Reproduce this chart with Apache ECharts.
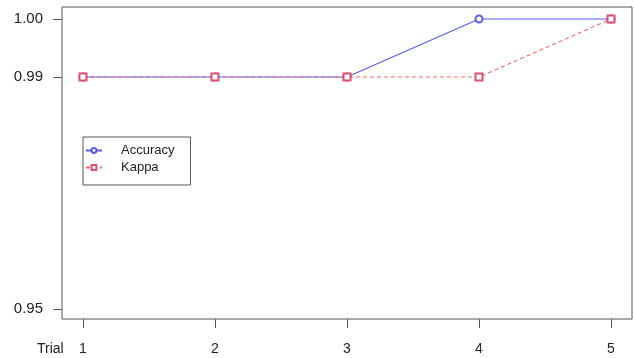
<!DOCTYPE html>
<html><head><meta charset="utf-8">
<script src="https://cdn.jsdelivr.net/npm/echarts@6/dist/echarts.min.js"></script>
<style>html,body{margin:0;padding:0;background:#fff}#c{width:634px;height:358px}</style>
</head><body><div id="c"></div>
<script>
const trials = [1, 2, 3, 4, 5];
const accuracy = [0.99, 0.99, 0.99, 1.00, 1.00];
const kappa = [0.99, 0.99, 0.99, 0.99, 1.00];
const yTicks = [0.95, 0.99, 1.00];
const xTicks = [1, 2, 3, 4, 5];

const chart = echarts.init(document.getElementById('c'));
const font = 'Liberation Sans, Arial, sans-serif';
chart.setOption({
  animation: false,
  grid: {left: 62, right: 2, top: 7, bottom: 39, show: true, borderColor: '#555', borderWidth: 1, backgroundColor: 'transparent'},
  xAxis: {
    type: 'value', min: 0.841, max: 5.159,
    axisLine: {show: false}, splitLine: {show: false},
    axisTick: {show: true, customValues: xTicks, length: 9, lineStyle: {color: '#555'}},
    axisLabel: {customValues: xTicks, margin: 23, fontFamily: font, fontSize: 14, color: '#222', formatter: v => String(v)}
  },
  yAxis: {
    type: 'value', min: 0.94828, max: 1.00207,
    axisLine: {show: false}, splitLine: {show: false},
    axisTick: {show: true, customValues: yTicks, length: 9, lineStyle: {color: '#555'}},
    axisLabel: {customValues: yTicks, margin: 19, fontFamily: font, fontSize: 15, color: '#222', formatter: v => v.toFixed(2)}
  },
  legend: {
    orient: 'vertical', left: 83, top: 137,
    borderColor: '#555', borderWidth: 1, padding: [7, 16, 11, 2],
    itemWidth: 16, itemHeight: 6, itemGap: 4,
    textStyle: {fontFamily: font, fontSize: 13, color: '#222', padding: [0, 0, 0, 14]},
    data: ['Accuracy', 'Kappa']
  },
  graphic: [{type: 'text', left: 37, top: 342, style: {text: 'Trial', font: '14px Liberation Sans, Arial, sans-serif', fill: '#222'}}],
  series: [
    {name: 'Accuracy', type: 'line', data: trials.map((t, i) => [t, accuracy[i]]),
     symbol: 'emptyCircle', symbolSize: 7, color: '#5a5af2',
     lineStyle: {width: 1.1, color: '#5a5af2'}, itemStyle: {color: '#5a5af2', borderWidth: 1.2}},
    {name: 'Kappa', type: 'line', data: trials.map((t, i) => [t, kappa[i]]),
     symbol: 'emptyRect', symbolSize: 7, color: '#ec5f6e',
     lineStyle: {width: 1.1, type: [4, 3], color: '#f06a6a'}, itemStyle: {color: '#e0506e', borderWidth: 1.3}}
  ]
});
</script></body></html>
